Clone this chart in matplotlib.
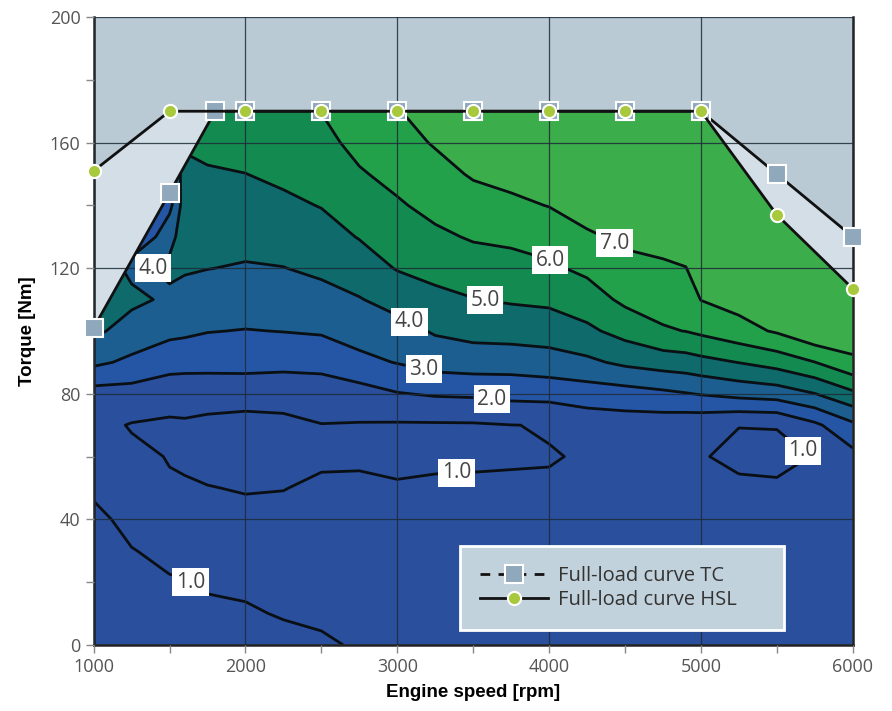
import numpy as np
import matplotlib
matplotlib.use("Agg")
import matplotlib.pyplot as plt
from matplotlib.patches import Polygon
from matplotlib.lines import Line2D

# ---- data ----
speeds = [1000, 1250, 1500, 1600, 1750, 2000, 2250, 2500, 2750, 3000, 3250, 3500,
          3750, 4000, 4250, 4500, 4750, 4900, 5000, 5250, 5500, 5750, 6000]
torques = [0, 10, 20, 30, 40, 50, 60, 70, 80, 90, 100, 110, 120, 130, 140, 150, 160, 170]

# map value per speed column, one entry per torque row (0..170 Nm)
z_1000 = [0.60, 0.68, 0.76, 0.84, 0.93, 1.05, 1.15, 1.25, 1.60, 3.20, 4.20, 4.50, 4.60, 4.70, 4.80, 4.90, 5.00, 5.10]
z_1250 = [0.70, 0.80, 0.90, 0.99, 1.08, 1.12, 1.15, 0.95, 1.60, 2.80, 3.60, 4.20, 3.80, 1.60, 2.00, 3.20, 3.40, 3.60]
z_1500 = [0.80, 0.90, 0.98, 1.06, 1.10, 1.06, 0.97, 0.93, 1.20, 2.50, 3.20, 3.85, 4.15, 3.80, 2.70, 2.00, 2.80, 3.00]
z_1600 = [0.82, 0.92, 0.99, 1.07, 1.09, 1.04, 0.94, 0.95, 1.18, 2.45, 3.15, 3.65, 4.10, 4.30, 4.50, 4.80, 5.10, 5.30]
z_1750 = [0.85, 0.95, 1.03, 1.08, 1.07, 1.01, 0.90, 0.92, 1.15, 2.45, 3.03, 3.50, 4.02, 4.30, 4.60, 4.92, 5.20, 5.40]
z_2000 = [0.90, 0.97, 1.05, 1.10, 1.08, 0.98, 0.88, 0.92, 1.10, 2.50, 2.97, 3.45, 3.92, 4.30, 4.65, 4.99, 5.35, 5.60]
z_2250 = [0.92, 1.02, 1.10, 1.12, 1.10, 0.99, 0.90, 0.94, 1.10, 2.40, 3.02, 3.50, 3.98, 4.40, 4.80, 5.20, 5.55, 5.85]
z_2500 = [0.96, 1.05, 1.12, 1.14, 1.12, 1.06, 0.94, 0.98, 1.40, 2.35, 3.10, 3.65, 4.20, 4.60, 5.04, 5.35, 5.70, 6.02]
z_2750 = [1.03, 1.10, 1.15, 1.16, 1.13, 1.06, 0.95, 0.94, 1.60, 2.75, 3.40, 3.95, 4.50, 5.05, 5.50, 5.90, 6.30, 6.60]
z_3000 = [1.10, 1.15, 1.18, 1.18, 1.14, 1.03, 0.92, 0.90, 1.95, 3.04, 3.65, 4.35, 5.06, 5.45, 5.88, 6.30, 6.65, 6.95]
z_3250 = [1.12, 1.16, 1.18, 1.17, 1.12, 1.04, 0.95, 0.90, 2.10, 3.40, 4.10, 4.75, 5.30, 5.80, 6.30, 6.67, 7.08, 7.40]
z_3500 = [1.14, 1.17, 1.18, 1.16, 1.10, 1.04, 0.96, 0.91, 2.15, 3.50, 4.30, 4.97, 5.50, 6.10, 6.60, 7.10, 7.50, 7.80]
z_3750 = [1.15, 1.17, 1.17, 1.15, 1.10, 1.07, 0.95, 0.99, 2.30, 3.45, 4.40, 5.10, 5.65, 6.20, 6.80, 7.30, 7.70, 7.90]
z_4000 = [1.16, 1.17, 1.17, 1.15, 1.12, 1.04, 0.98, 1.03, 2.35, 3.60, 4.45, 5.20, 5.85, 6.40, 7.03, 7.45, 7.80, 8.00]
z_4250 = [1.17, 1.18, 1.18, 1.16, 1.12, 1.07, 1.03, 1.40, 2.50, 3.80, 4.80, 5.55, 6.20, 6.85, 7.45, 7.75, 8.00, 8.10]
z_4500 = [1.18, 1.19, 1.19, 1.17, 1.14, 1.10, 1.08, 1.50, 2.60, 4.20, 5.35, 6.20, 6.70, 7.20, 7.60, 7.85, 8.05, 8.15]
z_4750 = [1.18, 1.19, 1.19, 1.17, 1.15, 1.12, 1.12, 1.45, 2.80, 4.45, 5.90, 6.40, 6.85, 7.35, 7.65, 7.90, 8.05, 8.15]
z_4900 = [1.18, 1.19, 1.19, 1.17, 1.15, 1.13, 1.10, 1.35, 2.95, 4.55, 6.02, 6.50, 6.98, 7.40, 7.70, 7.90, 8.05, 8.15]
z_5000 = [1.18, 1.18, 1.17, 1.15, 1.12, 1.08, 1.03, 1.30, 3.06, 4.70, 6.20, 7.02, 7.35, 7.60, 7.80, 7.95, 8.05, 8.10]
z_5250 = [1.18, 1.17, 1.16, 1.14, 1.10, 1.08, 0.90, 1.01, 3.31, 5.02, 6.65, 7.35, 7.60, 7.80, 7.95, 8.05, 8.10, 8.15]
z_5500 = [1.18, 1.17, 1.15, 1.12, 1.08, 1.06, 0.88, 1.02, 3.47, 5.40, 7.11, 7.50, 7.75, 7.90, 8.00, 8.05, 8.10, 8.15]
z_5750 = [1.17, 1.16, 1.14, 1.11, 1.08, 1.05, 1.02, 1.80, 3.98, 5.98, 7.83, 8.00, 8.10, 8.15, 8.20, 8.20, 8.20, 8.20]
z_6000 = [1.17, 1.16, 1.14, 1.12, 1.10, 1.12, 1.70, 2.80, 4.80, 6.80, 7.60, 7.90, 8.00, 8.10, 8.15, 8.20, 8.20, 8.20]

contour_levels = [1, 2, 3, 4, 5, 6, 7]
label_positions = [(1632, 19.6), (3391, 54.5), (5652, 60.7), (3622, 78.0), (3167, 86.3),
                   (3049, 100.2), (1382, 119.5), (3576, 109.0), (4006, 122.4), (4420, 127.0)]

tc_speed = [1000, 1500, 1800, 2000, 2500, 3000, 3500, 4000, 4500, 5000, 5500, 6000]
tc_torque = [101, 144, 170, 170, 170, 170, 170, 170, 170, 170, 150, 130]
hsl_speed = [1000, 1500, 2000, 2500, 3000, 3500, 4000, 4500, 5000, 5500, 6000]
hsl_torque = [151, 170, 170, 170, 170, 170, 170, 170, 170, 137, 113.5]

x_ticks = [1000, 2000, 3000, 4000, 5000, 6000]
y_ticks = [0, 40, 80, 120, 160, 200]

# ---- figure ----
Z = np.column_stack([z_1000, z_1250, z_1500, z_1600, z_1750, z_2000, z_2250, z_2500,
                     z_2750, z_3000, z_3250, z_3500, z_3750, z_4000, z_4250, z_4500,
                     z_4750, z_4900, z_5000, z_5250, z_5500, z_5750, z_6000])

fig = plt.figure(figsize=(8.92, 7.11), dpi=100)
ax = fig.add_axes([0.105, 0.093, 0.851, 0.883])
ax.set_xlim(1000, 6000)
ax.set_ylim(0, 200)
ax.set_facecolor("#bacad4")

xs = np.array(sorted(set(tc_speed) | set(hsl_speed)), dtype=float)
tc_i = np.interp(xs, tc_speed, tc_torque)
hsl_i = np.interp(xs, hsl_speed, hsl_torque)
lower = np.minimum(tc_i, hsl_i)
upper = np.maximum(tc_i, hsl_i)
ax.fill_between(xs, lower, upper, color="#d3dee6", lw=0, zorder=0.8)

verts = [(xs[0], 0)] + list(zip(xs, lower)) + [(xs[-1], 0)]
clip = Polygon(verts, closed=True, transform=ax.transData)

fill_colors = ["#2a4f9d", "#2a4f9d", "#2556a6", "#1c5e8f", "#0f6a6b",
               "#138b50", "#23a14a", "#3cad4b"]
cf = ax.contourf(speeds, torques, Z, levels=[0, 1, 2, 3, 4, 5, 6, 7, 9],
                 colors=fill_colors, zorder=1)
cf.set_clip_path(clip)
cs = ax.contour(speeds, torques, Z, levels=contour_levels, colors="#0a0f14",
                linewidths=2.0, zorder=2)
cs.set_clip_path(clip)
labels = ax.clabel(cs, manual=label_positions, inline=True, inline_spacing=2,
                   fmt="%.1f", fontsize=15, colors="#444444")
for t in labels:
    t.set_rotation(0)
    t.set_bbox(dict(facecolor="white", edgecolor="none", pad=2.5))
    t.set_zorder(6)
    t.set_fontfamily(["Open Sans", "DejaVu Sans"])

# grid
ax.set_xticks(x_ticks)
ax.set_yticks(y_ticks)
ax.set_xticks(np.arange(1500, 6000, 1000), minor=True)
ax.set_yticks(np.arange(20, 200, 40), minor=True)
ax.grid(True, which="major", color="#1d2b38", lw=0.9, alpha=0.85)
ax.set_axisbelow(False)

# full-load curves
ax.plot(tc_speed, tc_torque, color="#111111", lw=2.0, zorder=7,
        marker="s", ms=13.5, mfc="#8fa8bb", mec="white", mew=1.5, clip_on=False)
ax.plot(hsl_speed, hsl_torque, color="#111111", lw=2.0, zorder=8,
        marker="o", ms=9.5, mfc="#a9c93c", mec="white", mew=1.5, clip_on=False)

handles = [
    Line2D([], [], color="#111111", lw=2.0, ls=(0, (3.5, 3)), marker="s", ms=13,
           mfc="#8fa8bb", mec="white", mew=1.5),
    Line2D([], [], color="#111111", lw=2.0, marker="o", ms=9.5,
           mfc="#a9c93c", mec="white", mew=1.5),
]
leg = ax.legend(handles, ["Full-load curve TC", "Full-load curve HSL"],
                loc="lower left", bbox_to_anchor=(0.482, 0.024, 0.428, 0.143),
                mode="expand", borderaxespad=0, frameon=True, fancybox=False,
                handlelength=3.4, handletextpad=0.5,
                prop={"family": ["Open Sans", "DejaVu Sans"], "size": 14.5},
                labelcolor="#333333", borderpad=1.0, labelspacing=0.2)
leg.get_frame().set_facecolor("#c2d2dc")
leg.get_frame().set_edgecolor("white")
leg.get_frame().set_linewidth(2)
leg.get_frame().set_alpha(1)
leg.set_zorder(10)

# axes styling
for side in ["left", "bottom", "right"]:
    ax.spines[side].set_color("#222222")
    ax.spines[side].set_linewidth(1.8)
ax.spines["top"].set_visible(False)
ax.tick_params(which="both", direction="out", color="#888888", width=1,
               labelcolor="#555555", labelsize=13)
ax.tick_params(which="major", length=6)
ax.tick_params(which="minor", length=6)
for lab in ax.get_xticklabels() + ax.get_yticklabels():
    lab.set_fontfamily(["Open Sans", "DejaVu Sans"])
ax.set_xlabel("Engine speed [rpm]", fontsize=13.5, fontweight="bold",
              family=["Liberation Sans", "DejaVu Sans"], labelpad=6)
ax.set_ylabel("Torque [Nm]", fontsize=13.5, fontweight="bold",
              family=["Liberation Sans", "DejaVu Sans"], labelpad=10)

fig.savefig("out.png", dpi=100)
